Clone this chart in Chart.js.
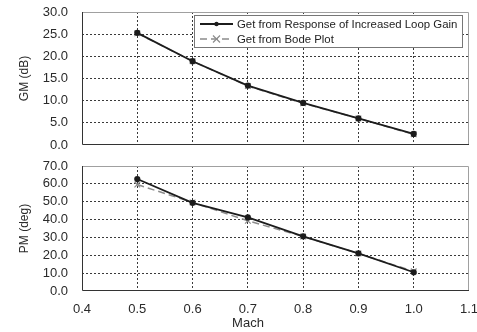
<!DOCTYPE html>
<html>
<head>
<meta charset="utf-8" />
<title>GM / PM vs Mach</title>
<style>
body { margin: 0; background: #fff; }
#wrap { position: relative; width: 477px; height: 332px; }
#gmChart { position: absolute; left: 0; top: 0; }
#pmChart { position: absolute; left: 0; top: 155px; }
#xTitle {
  position: absolute; left: 198px; width: 100px; top: 315px;
  text-align: center; font: 13px Arial, "Liberation Sans", sans-serif; color: #2a2a2a;
}
</style>
</head>
<body>
<div id="wrap">
  <canvas id="gmChart" width="477" height="155"></canvas>
  <canvas id="pmChart" width="477" height="177"></canvas>
  <div id="xTitle">Mach</div>
</div>
<script src="https://cdn.jsdelivr.net/npm/chart.js"></script>
<script>
// data
const mach = [0.5, 0.6, 0.7, 0.8, 0.9, 1.0];
const gmLoopGain = [25.3, 18.9, 13.4, 9.5, 6.0, 2.5];
const gmBode     = [25.2, 18.9, 13.3, 9.4, 6.0, 2.4];
const pmLoopGain = [62.7, 49.4, 41.2, 30.6, 21.1, 10.5];
const pmBode     = [59.6, 49.6, 39.3, 30.5, 21.0, 11.0];
const seriesLabels = ['Get from Response of Increased Loop Gain', 'Get from Bode Plot'];
const xTicks = [0.4, 1.1, 0.1];   // min, max, step
const gmTicks = [0, 30, 5];
const pmTicks = [0, 70, 10];

const FONT = 'Arial, "Liberation Sans", sans-serif';

function pts(ys) {
  return mach.map((x, i) => ({x: x, y: ys[i]}));
}

function makeSets(a, b) {
  return [{
    label: seriesLabels[0],
    data: pts(a),
    borderColor: '#1c1c1c',
    backgroundColor: '#1c1c1c',
    borderWidth: 1.8,
    pointStyle: 'circle',
    pointRadius: 2.2,
    showLine: true,
    tension: 0
  }, {
    label: seriesLabels[1],
    data: pts(b),
    borderColor: '#8c8c8c',
    backgroundColor: '#8c8c8c',
    borderWidth: 1.5,
    borderDash: [7, 4],
    pointStyle: 'crossRot',
    pointRadius: 4,
    pointBorderWidth: 1.2,
    showLine: true,
    tension: 0
  }];
}

// plot frame: dark left/bottom, light top/right
const framePlugin = {
  id: 'frame',
  afterDraw(chart) {
    const a = chart.chartArea, c = chart.ctx;
    c.save();
    c.lineWidth = 1;
    c.strokeStyle = '#a0a0a0';
    c.beginPath();
    c.moveTo(a.left, a.top + 0.5); c.lineTo(a.right - 0.5, a.top + 0.5); c.lineTo(a.right - 0.5, a.bottom);
    c.stroke();
    c.strokeStyle = '#333';
    c.beginPath();
    c.moveTo(a.left + 0.5, a.top); c.lineTo(a.left + 0.5, a.bottom - 0.5); c.lineTo(a.right, a.bottom - 0.5);
    c.stroke();
    c.restore();
  }
};

// legend box inside the top plot
const boxLegend = {
  id: 'boxLegend',
  afterDraw(chart, args, opts) {
    if (!opts.show) return;
    const c = chart.ctx;
    const x0 = 194, y0 = 15, x1 = 462, y1 = 47;
    c.save();
    c.fillStyle = '#fff';
    c.fillRect(x0, y0, x1 - x0, y1 - y0);
    c.strokeStyle = '#777';
    c.lineWidth = 1;
    c.strokeRect(x0 + 0.5, y0 + 0.5, x1 - x0, y1 - y0);
    const rows = [24, 39];
    chart.data.datasets.forEach((ds, i) => {
      const y = rows[i];
      c.strokeStyle = ds.borderColor;
      c.lineWidth = ds.borderWidth;
      c.setLineDash(ds.borderDash || []);
      c.beginPath(); c.moveTo(200, y); c.lineTo(233, y); c.stroke();
      c.setLineDash([]);
      if (ds.pointStyle === 'circle') {
        c.fillStyle = ds.borderColor;
        c.beginPath(); c.arc(216.5, y, 2.2, 0, Math.PI * 2); c.fill();
      } else {
        c.lineWidth = 1.2;
        c.beginPath();
        c.moveTo(213, y - 3.5); c.lineTo(220, y + 3.5);
        c.moveTo(220, y - 3.5); c.lineTo(213, y + 3.5);
        c.stroke();
      }
      c.fillStyle = '#222';
      c.font = '11.4px ' + FONT;
      c.textBaseline = 'middle';
      c.fillText(ds.label, 237, y + 0.5);
    });
    c.restore();
  }
};

function gridColor(lo, hi) {
  return ctx => (ctx.tick && (Math.abs(ctx.tick.value - lo) < 1e-6 || Math.abs(ctx.tick.value - hi) < 1e-6)) ? 'rgba(0,0,0,0)' : '#3a3a3a';
}

function noPad(s) {
  s.paddingTop = 0; s.paddingBottom = 0; s.paddingLeft = 0; s.paddingRight = 0;
}

function makeChart(id, a, b, yT, yTitle, opt) {
  return new Chart(document.getElementById(id), {
    type: 'scatter',
    data: {datasets: makeSets(a, b)},
    options: {
      responsive: false,
      animation: false,
      layout: {padding: {left: 0, right: 8, top: opt.top, bottom: 0}},
      plugins: {legend: {display: false}, tooltip: {enabled: false}, boxLegend: {show: opt.legend}},
      scales: {
        x: {
          type: 'linear',
          min: xTicks[0], max: xTicks[1],
          ticks: {
            display: opt.xLabels, stepSize: xTicks[2], padding: 11, autoSkip: false, maxRotation: 0,
            color: '#2a2a2a', font: {family: FONT, size: 13},
            callback: v => v.toFixed(1)
          },
          grid: {color: gridColor(xTicks[0], xTicks[1]), lineWidth: 1, drawTicks: false, borderDash: [2, 2]},
          border: {display: false, dash: [2, 2]},
          afterFit: s => { s.height = opt.xHeight; noPad(s); }
        },
        y: {
          min: yT[0], max: yT[1],
          ticks: {
            stepSize: yT[2], padding: 14, autoSkip: false,
            color: '#2a2a2a', font: {family: FONT, size: 13},
            callback: v => v.toFixed(1)
          },
          grid: {color: gridColor(yT[0], yT[1]), lineWidth: 1, drawTicks: false, borderDash: [2, 2]},
          border: {display: false, dash: [2, 2]},
          title: {display: true, text: yTitle, color: '#2a2a2a', font: {family: FONT, size: 12}, padding: {top: 17, bottom: 0}},
          afterFit: s => { s.width = 82; noPad(s); }
        }
      }
    },
    plugins: [framePlugin, boxLegend]
  });
}

makeChart('gmChart', gmLoopGain, gmBode, gmTicks, 'GM (dB)', {top: 12, xHeight: 10, xLabels: false, legend: true});
makeChart('pmChart', pmLoopGain, pmBode, pmTicks, 'PM (deg)', {top: 11, xHeight: 41, xLabels: true, legend: false});
</script>
</body>
</html>
